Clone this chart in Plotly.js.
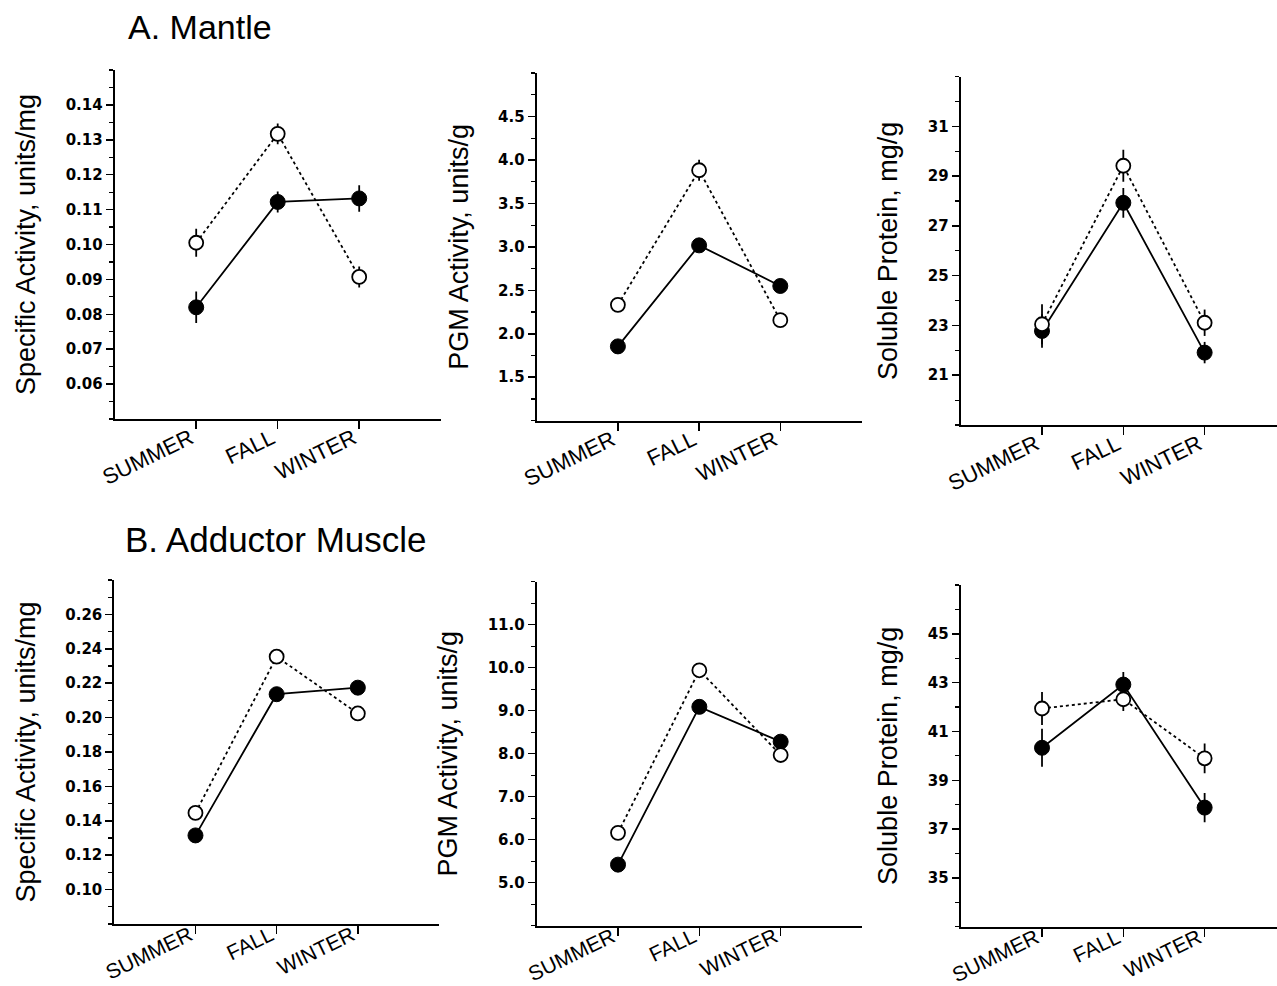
<!DOCTYPE html>
<html>
<head>
<meta charset="utf-8">
<script src="https://cdn.plot.ly/plotly-3.0.1.min.js"></script>
<style>html,body{margin:0;padding:0;background:#fff;}#chart{width:1277px;height:986px;}</style>
</head>
<body>
<div id="chart"></div>
<script>
// ---- data ----
const seasons = ['SUMMER', 'FALL', 'WINTER'];

// A. Mantle
const mantleSpecFilled = [0.0820, 0.1122, 0.1132];
const mantleSpecFilledErr = [0.0045, 0.003, 0.0038];
const mantleSpecOpen = [0.1005, 0.1317, 0.0907];
const mantleSpecOpenErr = [0.004, 0.003, 0.003];

const mantlePgmFilled = [1.855, 3.017, 2.55];
const mantlePgmFilledErr = [0.08, 0.06, 0.04];
const mantlePgmOpen = [2.333, 3.881, 2.157];
const mantlePgmOpenErr = [0.04, 0.12, 0.04];

const mantleProtFilled = [22.78, 27.93, 21.91];
const mantleProtFilledErr = [0.67, 0.6, 0.43];
const mantleProtOpen = [23.05, 29.42, 23.11];
const mantleProtOpenErr = [0.8, 0.64, 0.53];

// B. Adductor Muscle
const adductSpecFilled = [0.1315, 0.2136, 0.2174];
const adductSpecFilledErr = [0.002, 0.002, 0.002];
const adductSpecOpen = [0.1446, 0.2354, 0.2024];
const adductSpecOpenErr = [0.002, 0.002, 0.002];

const adductPgmFilled = [5.42, 9.09, 8.28];
const adductPgmFilledErr = [0.1, 0.1, 0.1];
const adductPgmOpen = [6.16, 9.94, 7.97];
const adductPgmOpenErr = [0.1, 0.1, 0.1];

const adductProtFilled = [40.33, 42.92, 37.88];
const adductProtFilledErr = [0.78, 0.52, 0.6];
const adductProtOpen = [41.94, 42.32, 39.9];
const adductProtOpenErr = [0.68, 0.48, 0.61];

// tick labels
const ticksSpecA = [0.06, 0.07, 0.08, 0.09, 0.10, 0.11, 0.12, 0.13, 0.14];
const ticksPgmA = [1.5, 2.0, 2.5, 3.0, 3.5, 4.0, 4.5];
const ticksProtA = [21, 23, 25, 27, 29, 31];
const ticksSpecB = [0.10, 0.12, 0.14, 0.16, 0.18, 0.20, 0.22, 0.24, 0.26];
const ticksPgmB = [5.0, 6.0, 7.0, 8.0, 9.0, 10.0, 11.0];
const ticksProtB = [35, 37, 39, 41, 43, 45];

const titleSpec = 'Specific Activity, units/mg';
const titlePgm = 'PGM Activity, units/g';
const titleProt = 'Soluble Protein, mg/g';
const panelTitles = ['A. Mantle', 'B. Adductor Muscle'];

// ---- build ----
const W = 1277, H = 986;
const FONT = 'Liberation Sans, Arial, sans-serif';
const panels = [
  {filled: mantleSpecFilled, fe: mantleSpecFilledErr, open: mantleSpecOpen, oe: mantleSpecOpenErr,
   ticks: ticksSpecA, fmt: '.2f', yr: [0.05, 0.15], minor: 0.005, title: titleSpec,
   x: [114.7, 440.7], xr: [-1, 3], y: [70, 419], so: -12, fs: 22},
  {filled: mantlePgmFilled, fe: mantlePgmFilledErr, open: mantlePgmOpen, oe: mantlePgmOpenErr,
   ticks: ticksPgmA, fmt: '.1f', yr: [1.0, 5.0], minor: 0.25, title: titlePgm,
   x: [536.7, 861.5], xr: [-1, 3], y: [73, 420.7], so: -12, fs: 22},
  {filled: mantleProtFilled, fe: mantleProtFilledErr, open: mantleProtOpen, oe: mantleProtOpenErr,
   ticks: ticksProtA, fmt: 'd', yr: [19, 33], minor: 1, title: titleProt,
   x: [960.7, 1277], xr: [-1, 2.89], y: [76.7, 425], so: -12, fs: 22},
  {filled: adductSpecFilled, fe: adductSpecFilledErr, open: adductSpecOpen, oe: adductSpecOpenErr,
   ticks: ticksSpecB, fmt: '.2f', yr: [0.08, 0.28], minor: 0.01, title: titleSpec,
   x: [114.3, 439], xr: [-1, 3], y: [580, 924], so: -19, fs: 21},
  {filled: adductPgmFilled, fe: adductPgmFilledErr, open: adductPgmOpen, oe: adductPgmOpenErr,
   ticks: ticksPgmB, fmt: '.1f', yr: [4, 12], minor: 0.5, title: titlePgm,
   x: [536.7, 862], xr: [-1, 3], y: [581.7, 925.7], so: -19, fs: 21},
  {filled: adductProtFilled, fe: adductProtFilledErr, open: adductProtOpen, oe: adductProtOpenErr,
   ticks: ticksProtB, fmt: 'd', yr: [33, 47], minor: 1, title: titleProt,
   x: [960.7, 1277], xr: [-1, 2.89], y: [585, 926.7], so: -19, fs: 21}
];

const data = [];
const layout = {
  width: W, height: H,
  margin: {l: 0, r: 0, t: 0, b: 0},
  paper_bgcolor: '#fff', plot_bgcolor: 'rgba(0,0,0,0)',
  showlegend: false,
  font: {family: FONT, color: '#000'},
  annotations: []
};

panels.forEach((p, i) => {
  const n = i + 1;
  const xa = 'x' + (n === 1 ? '' : n), ya = 'y' + (n === 1 ? '' : n);
  const xk = 'xaxis' + (n === 1 ? '' : n), yk = 'yaxis' + (n === 1 ? '' : n);
  data.push({
    type: 'scatter', mode: 'lines+markers', x: seasons, y: p.filled,
    xaxis: xa, yaxis: ya,
    line: {color: '#000', width: 1.8, dash: 'solid'},
    marker: {symbol: 'circle', size: 15, color: '#000', line: {color: '#000', width: 1}},
    error_y: {type: 'data', array: p.fe, visible: true, color: '#000', thickness: 1.8, width: 0}
  });
  data.push({
    type: 'scatter', mode: 'lines+markers', x: seasons, y: p.open,
    xaxis: xa, yaxis: ya,
    line: {color: '#000', width: 1.8, dash: 'dot'},
    marker: {symbol: 'circle', size: 14, color: '#fff', line: {color: '#000', width: 1.8}},
    error_y: {type: 'data', array: p.oe, visible: true, color: '#000', thickness: 1.8, width: 0}
  });
  layout[xk] = {
    domain: [p.x[0] / W, p.x[1] / W], anchor: ya,
    type: 'category', categoryorder: 'array', categoryarray: seasons,
    range: p.xr, showgrid: false, zeroline: false,
    showline: true, linecolor: '#000', linewidth: 2,
    ticks: 'outside', ticklen: 8, tickwidth: 1.5, tickcolor: '#000',
    tickangle: -26, ticklabelstandoff: p.so, ticklabelshift: -6,
    tickfont: {family: FONT, size: p.fs, color: '#000'},
    fixedrange: true
  };
  layout[yk] = {
    domain: [1 - p.y[1] / H, 1 - p.y[0] / H], anchor: xa,
    range: p.yr, showgrid: false, zeroline: false,
    showline: true, linecolor: '#000', linewidth: 2,
    tickmode: 'array', tickvals: p.ticks, tickformat: p.fmt,
    ticks: 'outside', ticklen: 7, tickwidth: 1.5, tickcolor: '#000',
    tickfont: {family: 'DejaVu Sans, sans-serif', size: 15, weight: 'bold', color: '#000'},
    minor: {tickmode: 'linear', tick0: p.yr[0], dtick: p.minor, ticks: 'outside', ticklen: 4, tickwidth: 1.2, tickcolor: '#000', showgrid: false},
    title: {text: p.title, font: {family: FONT, size: 27, color: '#000'}, standoff: 22},
    fixedrange: true
  };
});

layout.annotations.push({
  text: panelTitles[0], xref: 'paper', yref: 'paper',
  x: 126 / W, y: 1 - 27 / H, xanchor: 'left', yanchor: 'middle', showarrow: false,
  font: {family: FONT, size: 34, color: '#000'}
});
layout.annotations.push({
  text: panelTitles[1], xref: 'paper', yref: 'paper',
  x: 123 / W, y: 1 - 539 / H, xanchor: 'left', yanchor: 'middle', showarrow: false,
  font: {family: FONT, size: 35, color: '#000'}
});

Plotly.newPlot('chart', data, layout, {staticPlot: true, displayModeBar: false});
</script>
</body>
</html>
